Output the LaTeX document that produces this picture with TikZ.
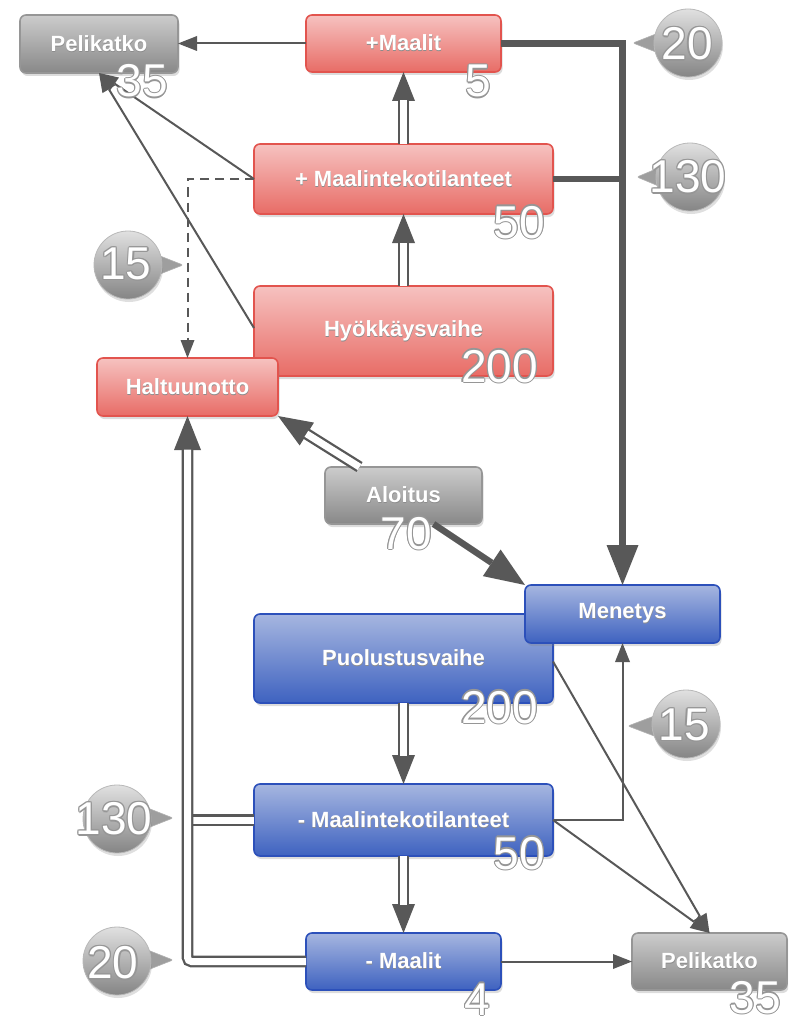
\documentclass[tikz,border=0pt]{standalone}
\usepackage{fontspec}
\setmainfont{Liberation Sans}
\usetikzlibrary{arrows.meta,shadows,calc}
\definecolor{lc}{RGB}{88,88,88}
\definecolor{redtop}{RGB}{246,194,192}
\definecolor{redbot}{RGB}{232,108,102}
\definecolor{redbd}{RGB}{226,84,78}
\definecolor{bluetop}{RGB}{166,182,224}
\definecolor{bluebot}{RGB}{62,98,192}
\definecolor{bluebd}{RGB}{44,80,186}
\definecolor{graytop}{RGB}{204,204,204}
\definecolor{graybot}{RGB}{136,136,136}
\definecolor{graybd}{RGB}{150,150,150}
\definecolor{numedge}{RGB}{150,150,150}
\newcommand\cpy[3]{\makebox[0pt][l]{\hspace*{#1}\raisebox{#2}{#3}}}
\newcommand\outl[1]{{\color{numedge}\cpy{1.2pt}{0pt}{#1}\cpy{-1.2pt}{0pt}{#1}\cpy{0pt}{1.2pt}{#1}\cpy{0pt}{-1.2pt}{#1}\cpy{.85pt}{.85pt}{#1}\cpy{-.85pt}{.85pt}{#1}\cpy{.85pt}{-.85pt}{#1}\cpy{-.85pt}{-.85pt}{#1}}#1}
\newcommand\shd[1]{{\color{black!45}\cpy{0.3pt}{-1.2pt}{#1}}#1}
\tikzset{
  box/.style={rounded corners=6pt, line width=1.6pt, minimum height=58pt, inner sep=0pt, outer sep=0pt,
    text=white, font=\fontsize{22}{26}\selectfont\bfseries,
    drop shadow={shadow xshift=1.5pt, shadow yshift=-3pt, opacity=0.28}},
  redbox/.style={box, draw=redbd, top color=redtop, bottom color=redbot},
  bluebox/.style={box, draw=bluebd, top color=bluetop, bottom color=bluebot},
  graybox/.style={box, draw=graybd, top color=graytop, bottom color=graybot},
  num/.style={anchor=base east, inner sep=0pt, text=white, font=\fontsize{46}{50}\selectfont},
  bnum/.style={anchor=center, inner sep=0pt, text=white, font=\fontsize{46}{50}\selectfont},
  tarr/.style={draw=lc, line width=2pt, -{Triangle[length=19pt,width=15pt,line width=0pt]}},
  darr/.style={draw=lc, line width=2pt, dash pattern=on 9pt off 6pt, -{Triangle[length=18pt,width=14pt,line width=0pt]}},
  kline/.style={draw=lc, line width=6.5pt},
  karr/.style={kline, -{Triangle[length=40pt,width=32pt,line width=0pt]}},
  dtip/.style={draw=lc, line width=1pt, -{Triangle[length=29pt,width=23pt,line width=0pt]}},
  dtipL/.style={draw=lc, line width=1pt, -{Triangle[length=34pt,width=27pt,line width=0pt]}},
  dbl/.style={draw=lc, double=white, double distance=7pt, line width=2.3pt},
  bub/.style={top color=black!12, bottom color=black!48, draw=black!28, line width=0.8pt,
    drop shadow={shadow xshift=1pt, shadow yshift=-3pt, opacity=0.25}},
  bubtri/.style={fill=black!38, draw=black!30, line width=0.6pt, rounded corners=2pt},
}
\begin{document}
\begin{tikzpicture}[x=1pt,y=-1pt]
\useasboundingbox (0,0) rectangle (788,1019);
\begin{scope}
\clip (0,0) rectangle (788,1019);
% nodes
\node[graybox, minimum width=158pt] (pk1) at (99,44) {\shd{Pelikatko}};
\node[redbox, minimum width=195pt, minimum height=57pt] (gm) at (403.5,43.5) {\shd{+Maalit}};
\node[redbox, minimum width=299pt, minimum height=70pt] (gc) at (403.5,179) {\shd{+ Maalintekotilanteet}};
\node[redbox, minimum width=299pt, minimum height=90pt] (hy) at (403.5,331) {\shd{Hyökkäysvaihe}};
\node[redbox, minimum width=181pt] (ha) at (187.5,387) {\shd{Haltuunotto}};
\node[graybox, minimum width=157pt, minimum height=57pt] (al) at (403.5,495.5) {\shd{Aloitus}};
\node[bluebox, minimum width=299pt, minimum height=89pt] (pu) at (403.5,658.5) {\shd{Puolustusvaihe}};
\node[bluebox, minimum width=195pt] (me) at (622.5,614) {\shd{Menetys}};
\node[bluebox, minimum width=299pt, minimum height=72pt] (dc) at (403.5,820) {\shd{- Maalintekotilanteet}};
\node[bluebox, minimum width=195pt, minimum height=57pt] (dm) at (403.5,961.5) {\shd{- Maalit}};
\node[graybox, minimum width=155pt, minimum height=57pt] (pk2) at (709.5,961.5) {\shd{Pelikatko}};
% thin connectors
\draw[tarr] (gm.west) -- (gm.west -| pk1.east);
\draw[tarr] (gc.west) -- (pk1.south);
\draw[tarr] ([yshift=3pt]hy.west) -- (pk1.south);
\draw[darr] (gc.west) -| (ha.north);
\draw[tarr] (dc.east) -| (me.south);
\draw[tarr] (dc.east) -- (pk2.north);
\draw[tarr] ([yshift=-3pt]pu.east) -- (pk2.north);
\draw[tarr] (dm.east) -- (pk2.west);
% thick connectors
\draw[kline] (gc.east) -- (gc.east -| me.north);
\draw[karr] (gm.east) -| (me.north);
\draw[karr] ([xshift=30pt]al.south) -- (me.north west);
% double connectors
\draw[dtip] (hy.north) -- (gc.south);
\draw[dbl, shorten >=28.5pt] (hy.north) -- (gc.south);
\draw[dtip] (gc.north) -- (gm.south);
\draw[dbl, shorten >=28.5pt] (gc.north) -- (gm.south);
\draw[dtip] (pu.south) -- (dc.north);
\draw[dbl, shorten >=28.5pt] (pu.south) -- (dc.north);
\draw[dtip] (dc.south) -- (dm.north);
\draw[dbl, shorten >=28.5pt] (dc.south) -- (dm.north);
\draw[dtipL] ([xshift=-44pt]al.north) -- (ha.south east);
\draw[dbl, shorten >=33.5pt] ([xshift=-44pt]al.north) -- (ha.south east);
\draw[dbl] (dc.west) -- (dc.west -| ha.south);
\draw[dtipL, rounded corners=4pt] (dm.west) -| (ha.south);
\draw[dbl, rounded corners=4pt, shorten >=33.5pt] (dm.west) -| (ha.south);
% bubbles (right side, pointing left)
\path[bubtri] (633,43) -- (666,30) -- (666,56) -- cycle;
\path[bub] (688,43) circle (34pt);
\node[bnum] (b1) at (687,44) {\outl{20}};
\path[bubtri] (637,177) -- (668,164) -- (668,190) -- cycle;
\path[bub] (690,177) circle (34pt);
\node[bnum] (b2) at (688,177) {\outl{130}};
\path[bubtri] (628,726) -- (662,713) -- (662,739) -- cycle;
\path[bub] (686,724) circle (34pt);
\node[bnum] (b3) at (684,725) {\outl{15}};
% bubbles (left side, pointing right)
\path[bubtri] (183,265) -- (150,252) -- (150,278) -- cycle;
\path[bub] (128,265) circle (34pt);
\node[bnum] (b4) at (126,264) {\outl{15}};
\path[bubtri] (173,818) -- (140,805) -- (140,831) -- cycle;
\path[bub] (117,819) circle (34pt);
\node[bnum] (b5) at (114,819) {\outl{130}};
\path[bubtri] (173,960) -- (140,947) -- (140,973) -- cycle;
\path[bub] (117,961) circle (34pt);
\node[bnum] (b6) at (113,963) {\outl{20}};
% numbers in boxes
\node[num] (n1) at (168,97) {\outl{35}};
\node[num] (n2) at (491,97) {\outl{5}};
\node[num] (n3) at (545,238) {\outl{50}};
\node[num] (n4) at (538,382) {\outl{200}};
\node[num] (n5) at (432,549) {\outl{70}};
\node[num] (n6) at (538,723) {\outl{200}};
\node[num] (n7) at (545,869) {\outl{50}};
\node[num] (n8) at (490,1015) {\outl{4}};
\node[num] (n9) at (781,1013) {\outl{35}};
\end{scope}
\end{tikzpicture}
\end{document}
